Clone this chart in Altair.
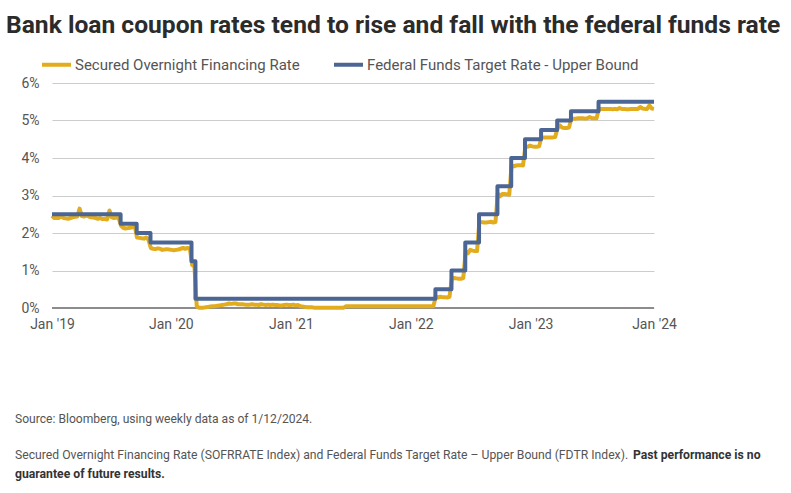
import altair as alt
import pandas as pd

TITLE = "Bank loan coupon rates tend to rise and fall with the federal funds rate"
SOFR_NAME = "Secured Overnight Financing Rate"
FDTR_NAME = "Federal Funds Target Rate - Upper Bound"
NOTE1 = "Source: Bloomberg, using weekly data as of 1/12/2024."
NOTE2 = "Secured Overnight Financing Rate (SOFRRATE Index) and Federal Funds Target Rate \u2013 Upper Bound (FDTR Index)."
NOTE2_BOLD = "Past performance is no"
NOTE3_BOLD = "guarantee of future results."

# Weekly (Friday) SOFR readings, in percent
sofr_2019 = [2.46, 2.40, 2.40, 2.40,
             2.45, 2.40, 2.39, 2.38,
             2.40, 2.42, 2.43, 2.44, 2.65,
             2.45, 2.44, 2.47, 2.44,
             2.42, 2.41, 2.40, 2.38, 2.40,
             2.37, 2.38, 2.36, 2.60,
             2.42, 2.40, 2.41, 2.40,
             2.20, 2.14, 2.12, 2.13, 2.14,
             2.15, 2.20, 1.88, 1.87,
             1.86, 1.85, 1.88, 1.82,
             1.60, 1.58, 1.57, 1.59, 1.58,
             1.55, 1.56, 1.57, 1.56]
sofr_2020 = [1.55, 1.54, 1.55, 1.56, 1.58,
             1.60, 1.58, 1.60, 1.59,
             1.15, 1.10, 0.04, 0.01,
             0.01, 0.01, 0.02, 0.03,
             0.04, 0.05, 0.05, 0.06, 0.07,
             0.08, 0.09, 0.10, 0.12,
             0.11, 0.12, 0.12, 0.10, 0.10,
             0.10, 0.09, 0.09, 0.09,
             0.10, 0.09, 0.09, 0.08,
             0.10, 0.09, 0.08, 0.09, 0.08,
             0.09, 0.08, 0.08, 0.07,
             0.07, 0.08, 0.09, 0.08]
sofr_2021 = [0.08, 0.09, 0.07, 0.08, 0.05,
             0.04, 0.03, 0.02, 0.02,
             0.02, 0.01, 0.01, 0.01,
             0.01, 0.01, 0.01, 0.01, 0.01,
             0.01, 0.01, 0.01, 0.01,
             0.01, 0.01, 0.05, 0.05,
             0.05, 0.05, 0.05, 0.05, 0.05,
             0.05, 0.05, 0.05, 0.05,
             0.05, 0.05, 0.05, 0.05,
             0.05, 0.05, 0.05, 0.05, 0.05,
             0.05, 0.05, 0.05, 0.05,
             0.05, 0.05, 0.05, 0.05, 0.05]
sofr_2022 = [0.05, 0.05, 0.05, 0.05,
             0.05, 0.05, 0.05, 0.05,
             0.05, 0.05, 0.30, 0.28,
             0.30, 0.29, 0.29, 0.28, 0.30,
             0.78, 0.80, 0.79, 0.78,
             0.78, 0.80, 1.50, 1.46,
             1.55, 1.53, 1.52, 1.52, 2.30,
             2.29, 2.28, 2.28, 2.29,
             2.30, 2.28, 2.29, 3.05, 2.98,
             3.04, 3.04, 3.03, 3.02,
             3.80, 3.78, 3.80, 3.81,
             3.81, 3.80, 4.30, 4.30, 4.33]
sofr_2023 = [4.31, 4.30, 4.30, 4.31,
             4.55, 4.55, 4.55, 4.55,
             4.55, 4.55, 4.56, 4.80, 4.87,
             4.81, 4.80, 4.80, 4.81,
             5.05, 5.05, 5.05, 5.06,
             5.06, 5.06, 5.05, 5.06, 5.09,
             5.06, 5.06, 5.06, 5.31,
             5.31, 5.31, 5.31, 5.31,
             5.31, 5.30, 5.31, 5.30, 5.33,
             5.31, 5.31, 5.30, 5.30,
             5.31, 5.31, 5.31, 5.31,
             5.36, 5.32, 5.31, 5.31, 5.40]
sofr_2024 = [5.32, 5.31]

# Federal funds target rate, upper bound: dates on which the level changed
fdtr_dates = ["2019-01-04", "2019-08-01", "2019-09-19", "2019-10-31", "2020-03-04",
              "2020-03-16", "2022-03-17", "2022-05-05", "2022-06-16", "2022-07-28",
              "2022-09-22", "2022-11-03", "2022-12-15", "2023-02-02", "2023-03-23",
              "2023-05-04", "2023-07-27", "2024-01-12"]
fdtr_values = [2.50, 2.25, 2.00, 1.75, 1.25,
               0.25, 0.50, 1.00, 1.75, 2.50,
               3.25, 4.00, 4.50, 4.75, 5.00,
               5.25, 5.50, 5.50]

y_ticks = [0, 1, 2, 3, 4, 5, 6]

GOLD = "#E2AC1C"
BLUE = "#4B6695"
TEXT = "#555555"
FONT = "Roboto"

sofr_values = sofr_2019 + sofr_2020 + sofr_2021 + sofr_2022 + sofr_2023 + sofr_2024
sofr_dates = pd.date_range("2019-01-04", periods=len(sofr_values), freq="W-FRI")

df_sofr = pd.DataFrame({"date": sofr_dates.strftime("%Y-%m-%d"), "rate": sofr_values, "series": SOFR_NAME})
df_fdtr = pd.DataFrame({"date": fdtr_dates, "rate": fdtr_values, "series": FDTR_NAME})

x_ticks = [alt.DateTime(year=2019, month=1, date=4),
           alt.DateTime(year=2020, month=1, date=1),
           alt.DateTime(year=2021, month=1, date=1),
           alt.DateTime(year=2022, month=1, date=1),
           alt.DateTime(year=2023, month=1, date=1),
           alt.DateTime(year=2024, month=1, date=12)]

x_enc = alt.X("date:T", title=None,
              scale=alt.Scale(domain=[alt.DateTime(year=2019, month=1, date=4),
                                      alt.DateTime(year=2024, month=1, date=12)]),
              axis=alt.Axis(values=x_ticks, format="%b '%y", grid=False, domain=False,
                            ticks=False, labelPadding=9, labelFlush=False, labelOverlap=False,
                            labelFontSize=14, labelColor=TEXT, labelFont=FONT))
y_enc = alt.Y("rate:Q", title=None,
              scale=alt.Scale(domain=[0, 6], nice=False),
              axis=alt.Axis(values=y_ticks, labelExpr="datum.value + '%'", domain=False,
                            ticks=False, labelPadding=13, gridColor="#cccccc",
                            labelOverlap=False,
                            labelFontSize=14, labelColor=TEXT, labelFont=FONT))
color_enc = alt.Color("series:N",
                      scale=alt.Scale(domain=[SOFR_NAME, FDTR_NAME], range=[GOLD, BLUE]),
                      legend=alt.Legend(title=None, orient="none", legendX=-12, legendY=-35,
                                        direction="horizontal", symbolType="stroke",
                                        symbolStrokeWidth=4, symbolSize=841,
                                        labelFontSize=15, labelColor=TEXT, labelFont=FONT,
                                        labelLimit=500, columnPadding=26, labelOffset=2))

zero = alt.Chart(pd.DataFrame({"rate": [0]})).mark_rule(color="#8c8c8c", strokeWidth=2).encode(
    y=y_enc)

sofr_line = alt.Chart(df_sofr).mark_line(strokeWidth=4, strokeJoin="round").encode(
    x=x_enc, y=y_enc, color=color_enc)
fdtr_line = alt.Chart(df_fdtr).mark_line(strokeWidth=4, interpolate="step-after", strokeJoin="round").encode(
    x=x_enc, y=y_enc, color=color_enc)


def label(text, x, y, size, weight="normal", color=TEXT):
    return alt.Chart(pd.DataFrame({"t": [text]})).mark_text(
        align="left", baseline="alphabetic", fontSize=size, fontWeight=weight,
        font=FONT, color=color).encode(text="t:N", x=alt.value(x), y=alt.value(y))


title = label(TITLE, -46, -50, 24.6, "bold", "#2b2b2b")
note1 = label(NOTE1, -37, 340, 12.1)
note2 = label(NOTE2, -37, 376, 12.2)
note2b = label(NOTE2_BOLD, 581, 376, 12.2, "bold", "#333333")
note3 = label(NOTE3_BOLD, -37, 395, 12.2, "bold", "#333333")

chart = alt.layer(zero, sofr_line, fdtr_line, title, note1, note2, note2b, note3).properties(
    width=602, height=225,
    padding={"left": 52, "top": 83, "right": 137, "bottom": 185},
    autosize=alt.AutoSizeParams(type="none"),
    background="white",
).configure_view(stroke=None)

chart.save("out.html", embed_options={"renderer": "svg", "actions": False})
